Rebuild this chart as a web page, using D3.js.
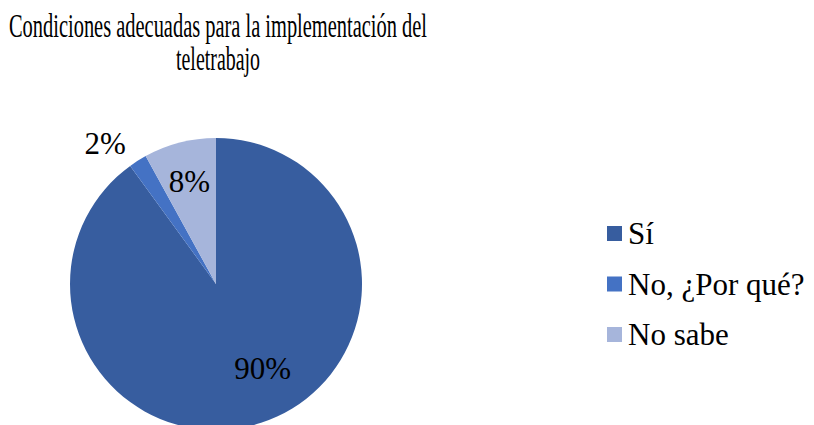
<!DOCTYPE html>
<html><head><meta charset="utf-8"><script src="https://cdn.jsdelivr.net/npm/d3@7"></script>
<style>
  @font-face {
    font-family: "ChartSerif";
    src: local("Liberation Serif"), local("LiberationSerif"), local("LiberationSerif-Regular"), local("Tinos"), local("Times New Roman");
  }
  body { margin: 0; background: #fff; }
</style>
</head>
<body>
<script>
// data
const categories = ["Sí", "No, ¿Por qué?", "No sabe"];
const values = [90, 2, 8];
const labels = ["90%", "2%", "8%"];
const colors = ["#375D9F", "#4472C4", "#A6B5DB"];
const titleLines = ["Condiciones adecuadas para la implementación del", "teletrabajo"];

const width = 814, height = 425;
const radius = 146;
const cx = 216, cy = 284;
const serif = "'Liberation Serif', ChartSerif, Tinos, 'Times New Roman', 'DejaVu Serif'";

function draw() {
    const svg = d3.select("body").append("svg")
        .attr("width", width)
        .attr("height", height)
        .style("font-family", serif);

    // title (squeezed horizontally like the original)
    const titleLens = [418, 84];
    svg.selectAll("text.title")
        .data(titleLines)
        .join("text")
        .attr("class", "title")
        .attr("x", 218)
        .attr("y", (d, i) => 37 + i * 33)
        .attr("text-anchor", "middle")
        .attr("font-size", 33)
        .style("font-family", serif)
        .attr("textLength", (d, i) => titleLens[i])
        .attr("lengthAdjust", "spacingAndGlyphs")
        .text(d => d);

    const pie = d3.pie().sort(null).value(d => d)(values);
    const arc = d3.arc().innerRadius(0).outerRadius(radius);

    const g = svg.append("g").attr("transform", "translate(" + cx + "," + cy + ")");
    g.selectAll("path")
        .data(pie)
        .join("path")
        .attr("d", arc)
        .attr("fill", (d, i) => colors[i]);

    // label placement: radius factor and angle shift per slice
    const labelR = [0.66, 1.23, 0.73];
    const labelShift = [-0.19, -0.1, 0];
    g.selectAll("text.lbl")
        .data(pie)
        .join("text")
        .attr("class", "lbl")
        .attr("font-size", 31)
        .style("font-family", serif)
        .attr("text-anchor", "middle")
        .attr("dy", "0.35em")
        .attr("transform", (d, i) => {
            const a = (d.startAngle + d.endAngle) / 2 + labelShift[i];
            const r = radius * labelR[i];
            return "translate(" + (r * Math.sin(a)) + "," + (-r * Math.cos(a)) + ")";
        })
        .text((d, i) => labels[i]);

    // legend
    const legend = svg.append("g").attr("transform", "translate(607,226)");
    const item = legend.selectAll("g")
        .data(categories)
        .join("g")
        .attr("transform", (d, i) => "translate(0," + (i * 50.5) + ")");
    item.append("rect")
        .attr("width", 15)
        .attr("height", 15)
        .attr("fill", (d, i) => colors[i]);
    item.append("text")
        .attr("x", 21)
        .attr("y", 18)
        .attr("font-size", 31)
        .style("font-family", serif)
        .text(d => d);
}

draw();
</script>
</body>
</html>
